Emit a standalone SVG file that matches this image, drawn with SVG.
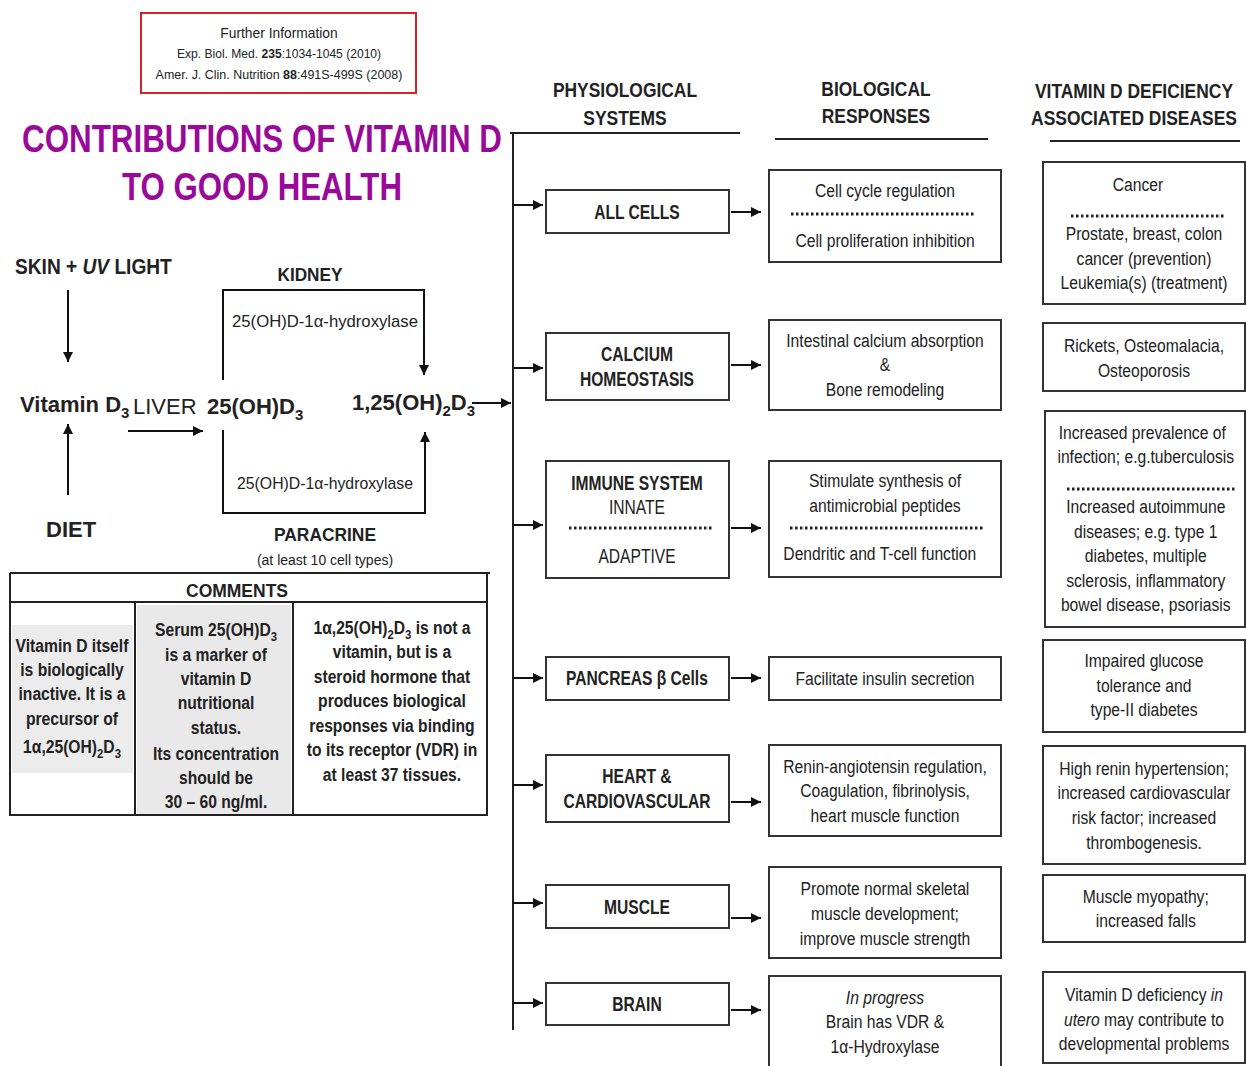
<svg xmlns="http://www.w3.org/2000/svg" width="1246" height="1066" viewBox="0 0 1246 1066">
<defs>
<marker id="ah" markerUnits="userSpaceOnUse" markerWidth="10" markerHeight="10" refX="10" refY="5" orient="auto">
<path d="M0,0 L10,5 L0,10 z" fill="#111"/>
</marker>
<style>
text{font-family:"Liberation Sans",Arial,sans-serif;fill:#222}
.b{font-weight:bold}
.t{font-size:18px;text-anchor:middle}
.t2{font-size:20px;text-anchor:middle}
.h{font-size:21px;font-weight:bold;text-anchor:middle}
.lbl{font-size:20px;font-weight:bold;text-anchor:middle}
.box{fill:#fff;stroke:#333;stroke-width:2}
.dot{stroke:#222;stroke-width:3;stroke-dasharray:2.5 2.5;fill:none}
.ln{stroke:#222;stroke-width:2;fill:none}
.ar{stroke:#111;stroke-width:2;fill:none;marker-end:url(#ah)}
.title{font-weight:bold;font-size:38px;fill:#9A0A9A;text-anchor:middle}
.path{font-size:22px;font-weight:bold}
.cm{font-size:18px;font-weight:bold;text-anchor:middle}
.ref{text-anchor:middle}
</style>
</defs>
<rect width="1246" height="1066" fill="#fff"/>

<g id="reference">
<rect x="141" y="13" width="275" height="80" fill="#fff" stroke="#D42424" stroke-width="2"/>
<text class="ref" x="279" y="38" style="font-size:15px" transform="matrix(0.92,0,0,1,22.32,0)">Further Information</text>
<text class="ref" x="279" y="58" style="font-size:13px" transform="matrix(0.93,0,0,1,19.53,0)">Exp. Biol. Med. <tspan class="b">235</tspan>:1034-1045 (2010)</text>
<text class="ref" x="279" y="79" style="font-size:13px" transform="matrix(0.96,0,0,1,11.16,0)">Amer. J. Clin. Nutrition <tspan class="b">88</tspan>:491S-499S  (2008)</text>
</g>

<g id="title">
<text class="title" x="262" y="152" textLength="480" lengthAdjust="spacingAndGlyphs">CONTRIBUTIONS OF VITAMIN D</text>
<text class="title" x="262" y="200" textLength="280" lengthAdjust="spacingAndGlyphs">TO GOOD HEALTH</text>
</g>

<g id="headers">
<g transform="matrix(0.83,0,0,1,106.25,0)"><text class="h" x="625" y="97">PHYSIOLOGICAL</text><text class="h" x="625" y="125">SYSTEMS</text></g>
<g transform="matrix(0.83,0,0,1,148.92,0)"><text class="h" x="876" y="96">BIOLOGICAL</text><text class="h" x="876" y="123">RESPONSES</text></g>
<g transform="matrix(0.83,0,0,1,192.78,0)"><text class="h" x="1134" y="98">VITAMIN D DEFICIENCY</text><text class="h" x="1134" y="125">ASSOCIATED DISEASES</text></g>
<path class="ln" d="M775,139 H988 M1050,141 H1240"/>
</g>

<g id="pathway">
<text id="skin" class="path" x="15" y="274" transform="matrix(0.87,0,0,1,1.95,0)">SKIN + <tspan font-style="italic">UV</tspan> LIGHT</text>
<text id="vitd3" class="path" x="20" y="412">Vitamin D<tspan dy="6" font-size="15">3</tspan></text>
<text id="liver" x="133" y="414" style="font-size:22px">LIVER</text>
<text id="d25" class="path" x="207" y="414">25(OH)D<tspan dy="6" font-size="15">3</tspan></text>
<text id="d125" class="path" x="352" y="410">1,25(OH)<tspan dy="6" font-size="15">2</tspan><tspan dy="-6">D</tspan><tspan dy="6" font-size="15">3</tspan></text>
<text id="diet" class="path" x="46" y="537">DIET</text>
<text id="kidney" class="path" x="310" y="281" style="font-size:19px;text-anchor:middle" textLength="65" lengthAdjust="spacingAndGlyphs">KIDNEY</text>
<text x="325" y="327" style="font-size:17px;text-anchor:middle" textLength="186" lengthAdjust="spacingAndGlyphs">25(OH)D-1α-hydroxylase</text>
<text x="325" y="489" style="font-size:17px;text-anchor:middle" textLength="176" lengthAdjust="spacingAndGlyphs">25(OH)D-1α-hydroxylase</text>
<text id="paracrine" class="path" x="325" y="541" style="font-size:19px;text-anchor:middle" textLength="102" lengthAdjust="spacingAndGlyphs">PARACRINE</text>
<text x="325" y="565" style="font-size:14px;text-anchor:middle">(at least 10 cell types)</text>
</g>

<g id="connectors">
<path class="ar" d="M68,290 V362"/>
<path class="ar" d="M68,495 V424"/>
<path class="ar" d="M128,431 H203"/>
<path class="ar" d="M223,380 V290 H424 V375"/>
<path class="ar" d="M223,430 V513 H425 V432"/>
<path class="ar" d="M472,403 H511"/>
<path class="ln" d="M510,133 H740 M513,133 V1030"/>
<path class="ar" d="M513,205 H543"/>
<path class="ar" d="M513,368 H543"/>
<path class="ar" d="M513,525 H543"/>
<path class="ar" d="M513,678 H543"/>
<path class="ar" d="M513,785 H543"/>
<path class="ar" d="M513,903 H543"/>
<path class="ar" d="M513,1003 H543"/>
<path class="ar" d="M731,212 H761"/>
<path class="ar" d="M731,365 H761"/>
<path class="ar" d="M731,528 H761"/>
<path class="ar" d="M731,678 H761"/>
<path class="ar" d="M731,802 H761"/>
<path class="ar" d="M731,918 H761"/>
<path class="ar" d="M731,1010 H761"/>
</g>

<g id="comments">
<rect x="137" y="605" width="154" height="209" fill="#e9e9e9"/>
<rect x="12" y="625" width="121" height="148" fill="#ececec"/>
<path class="ln" d="M10,573 H490 M10,573 V815 H487 V573 M10,602 H487 M135,602 V815 M293,602 V815"/>
<text class="cm" x="237" y="597" textLength="102" lengthAdjust="spacingAndGlyphs">COMMENTS</text>
<g transform="matrix(0.87,0,0,1,9.36,0)">
<text class="cm" x="72" y="652">Vitamin D itself</text>
<text class="cm" x="72" y="676">is biologically</text>
<text class="cm" x="72" y="700">inactive. It is a</text>
<text class="cm" x="72" y="725">precursor of</text>
<text class="cm" x="72" y="753">1α,25(OH)<tspan dy="5" font-size="13">2</tspan><tspan dy="-5">D</tspan><tspan dy="5" font-size="13">3</tspan></text>
</g>
<g transform="matrix(0.87,0,0,1,28.08,0)">
<text class="cm" x="216" y="636">Serum 25(OH)D<tspan dy="5" font-size="13">3</tspan></text>
<text class="cm" x="216" y="661">is a marker of</text>
<text class="cm" x="216" y="685">vitamin D</text>
<text class="cm" x="216" y="709">nutritional</text>
<text class="cm" x="216" y="734">status.</text>
<text class="cm" x="216" y="760">Its concentration</text>
<text class="cm" x="216" y="784">should be</text>
<text class="cm" x="216" y="808">30 – 60  ng/ml.</text>
</g>
<g transform="matrix(0.87,0,0,1,50.96,0)">
<text class="cm" x="392" y="634">1α,25(OH)<tspan dy="5" font-size="13">2</tspan><tspan dy="-5">D</tspan><tspan dy="5" font-size="13">3</tspan><tspan dy="-5"> is not a</tspan></text>
<text class="cm" x="392" y="658">vitamin, but is a</text>
<text class="cm" x="392" y="683">steroid hormone that</text>
<text class="cm" x="392" y="707">produces biological</text>
<text class="cm" x="392" y="732">responses via binding</text>
<text class="cm" x="392" y="756">to its receptor (VDR) in</text>
<text class="cm" x="392" y="781">at least 37 tissues.</text>
</g>
</g>

<g id="sys-allcells"><rect class="box" x="546" y="190" width="183" height="43"/><g transform="matrix(0.78,0,0,1,140.14,0)"><text class="lbl" x="637" y="219">ALL CELLS</text></g></g>
<g id="sys-calcium"><rect class="box" x="546" y="333" width="183" height="67"/><g transform="matrix(0.78,0,0,1,140.14,0)"><text class="lbl" x="637" y="361">CALCIUM</text><text class="lbl" x="637" y="386">HOMEOSTASIS</text></g></g>
<g id="sys-immune"><rect class="box" x="546" y="461" width="183" height="117"/><path class="dot" d="M569,528 H714"/><g transform="matrix(0.78,0,0,1,140.14,0)"><text class="lbl" x="637" y="490">IMMUNE SYSTEM</text><text class="t2" x="637" y="514">INNATE</text><text class="t2" x="637" y="563">ADAPTIVE</text></g></g>
<g id="sys-pancreas"><rect class="box" x="546" y="657" width="183" height="43"/><g transform="matrix(0.78,0,0,1,140.14,0)"><text class="lbl" x="637" y="685">PANCREAS β Cells</text></g></g>
<g id="sys-heart"><rect class="box" x="546" y="755" width="183" height="67"/><g transform="matrix(0.78,0,0,1,140.14,0)"><text class="lbl" x="637" y="783">HEART &amp;</text><text class="lbl" x="637" y="808">CARDIOVASCULAR</text></g></g>
<g id="sys-muscle"><rect class="box" x="546" y="885" width="183" height="43"/><g transform="matrix(0.78,0,0,1,140.14,0)"><text class="lbl" x="637" y="914">MUSCLE</text></g></g>
<g id="sys-brain"><rect class="box" x="546" y="983" width="183" height="42"/><g transform="matrix(0.78,0,0,1,140.14,0)"><text class="lbl" x="637" y="1011">BRAIN</text></g></g>

<g id="resp-cell"><rect class="box" x="769" y="170" width="232" height="92"/><path class="dot" d="M791,214 H976"/><g transform="matrix(0.87,0,0,1,115.05,0)"><text class="t" x="885" y="197">Cell cycle regulation</text><text class="t" x="885" y="247">Cell proliferation inhibition</text></g></g>
<g id="resp-calcium"><rect class="box" x="769" y="320" width="232" height="90"/><g transform="matrix(0.87,0,0,1,115.05,0)"><text class="t" x="885" y="347">Intestinal calcium absorption</text><text class="t" x="885" y="371">&amp;</text><text class="t" x="885" y="396">Bone remodeling</text></g></g>
<g id="resp-immune"><rect class="box" x="769" y="461" width="232" height="116"/><path class="dot" d="M790,528 H985"/><g transform="matrix(0.87,0,0,1,115.05,0)"><text class="t" x="885" y="487">Stimulate synthesis of</text><text class="t" x="885" y="512">antimicrobial peptides</text><text class="t" x="879" y="560">Dendritic and T-cell function</text></g></g>
<g id="resp-pancreas"><rect class="box" x="769" y="657" width="232" height="43"/><g transform="matrix(0.87,0,0,1,115.05,0)"><text class="t" x="885" y="685">Facilitate insulin secretion</text></g></g>
<g id="resp-heart"><rect class="box" x="769" y="745" width="232" height="91"/><g transform="matrix(0.87,0,0,1,115.05,0)"><text class="t" x="885" y="773">Renin-angiotensin regulation,</text><text class="t" x="885" y="797">Coagulation, fibrinolysis,</text><text class="t" x="885" y="822">heart muscle function</text></g></g>
<g id="resp-muscle"><rect class="box" x="769" y="867" width="232" height="91"/><g transform="matrix(0.87,0,0,1,115.05,0)"><text class="t" x="885" y="895">Promote normal skeletal</text><text class="t" x="885" y="920">muscle development;</text><text class="t" x="885" y="945">improve muscle strength</text></g></g>
<g id="resp-brain"><rect class="box" x="769" y="976" width="232" height="94"/><g transform="matrix(0.87,0,0,1,115.05,0)"><text class="t" x="885" y="1004" font-style="italic">In progress</text><text class="t" x="885" y="1028">Brain has VDR &amp;</text><text class="t" x="885" y="1053">1α-Hydroxylase</text></g></g>

<g id="dis-cancer"><rect class="box" x="1043" y="162" width="202" height="142"/><path class="dot" d="M1071,216 H1224"/><g transform="matrix(0.87,0,0,1,148.72,0)"><text class="t" x="1137" y="191">Cancer</text><text class="t" x="1144" y="240">Prostate, breast, colon</text><text class="t" x="1144" y="265">cancer (prevention)</text><text class="t" x="1144" y="289">Leukemia(s) (treatment)</text></g></g>
<g id="dis-bone"><rect class="box" x="1043" y="323" width="202" height="68"/><g transform="matrix(0.87,0,0,1,148.72,0)"><text class="t" x="1144" y="352">Rickets, Osteomalacia,</text><text class="t" x="1144" y="377">Osteoporosis</text></g></g>
<g id="dis-immune"><rect class="box" x="1045" y="411" width="200" height="216"/><path class="dot" d="M1067,489 H1236"/><g transform="matrix(0.87,0,0,1,148.72,0)"><text class="t" x="1142" y="439">Increased prevalence of</text><text class="t" x="1146" y="463">infection; e.g.tuberculosis</text><text class="t" x="1146" y="513">Increased autoimmune</text><text class="t" x="1146" y="538">diseases; e.g. type 1</text><text class="t" x="1146" y="562">diabetes, multiple</text><text class="t" x="1146" y="587">sclerosis, inflammatory</text><text class="t" x="1146" y="611">bowel disease, psoriasis</text></g></g>
<g id="dis-glucose"><rect class="box" x="1043" y="640" width="202" height="92"/><g transform="matrix(0.87,0,0,1,148.72,0)"><text class="t" x="1144" y="667">Impaired glucose</text><text class="t" x="1144" y="692">tolerance and</text><text class="t" x="1144" y="716">type-II diabetes</text></g></g>
<g id="dis-heart"><rect class="box" x="1043" y="746" width="202" height="118"/><g transform="matrix(0.87,0,0,1,148.72,0)"><text class="t" x="1144" y="775">High renin hypertension;</text><text class="t" x="1144" y="799">increased cardiovascular</text><text class="t" x="1144" y="824">risk factor; increased</text><text class="t" x="1144" y="849">thrombogenesis.</text></g></g>
<g id="dis-muscle"><rect class="box" x="1043" y="875" width="202" height="67"/><g transform="matrix(0.87,0,0,1,148.72,0)"><text class="t" x="1146" y="903">Muscle myopathy;</text><text class="t" x="1146" y="927">increased falls</text></g></g>
<g id="dis-brain"><rect class="box" x="1043" y="972" width="202" height="91"/><g transform="matrix(0.87,0,0,1,148.72,0)"><text class="t" x="1144" y="1001">Vitamin D deficiency <tspan font-style="italic">in</tspan></text><text class="t" x="1144" y="1026"><tspan font-style="italic">utero</tspan> may contribute to</text><text class="t" x="1144" y="1050">developmental problems</text></g></g>
</svg>
